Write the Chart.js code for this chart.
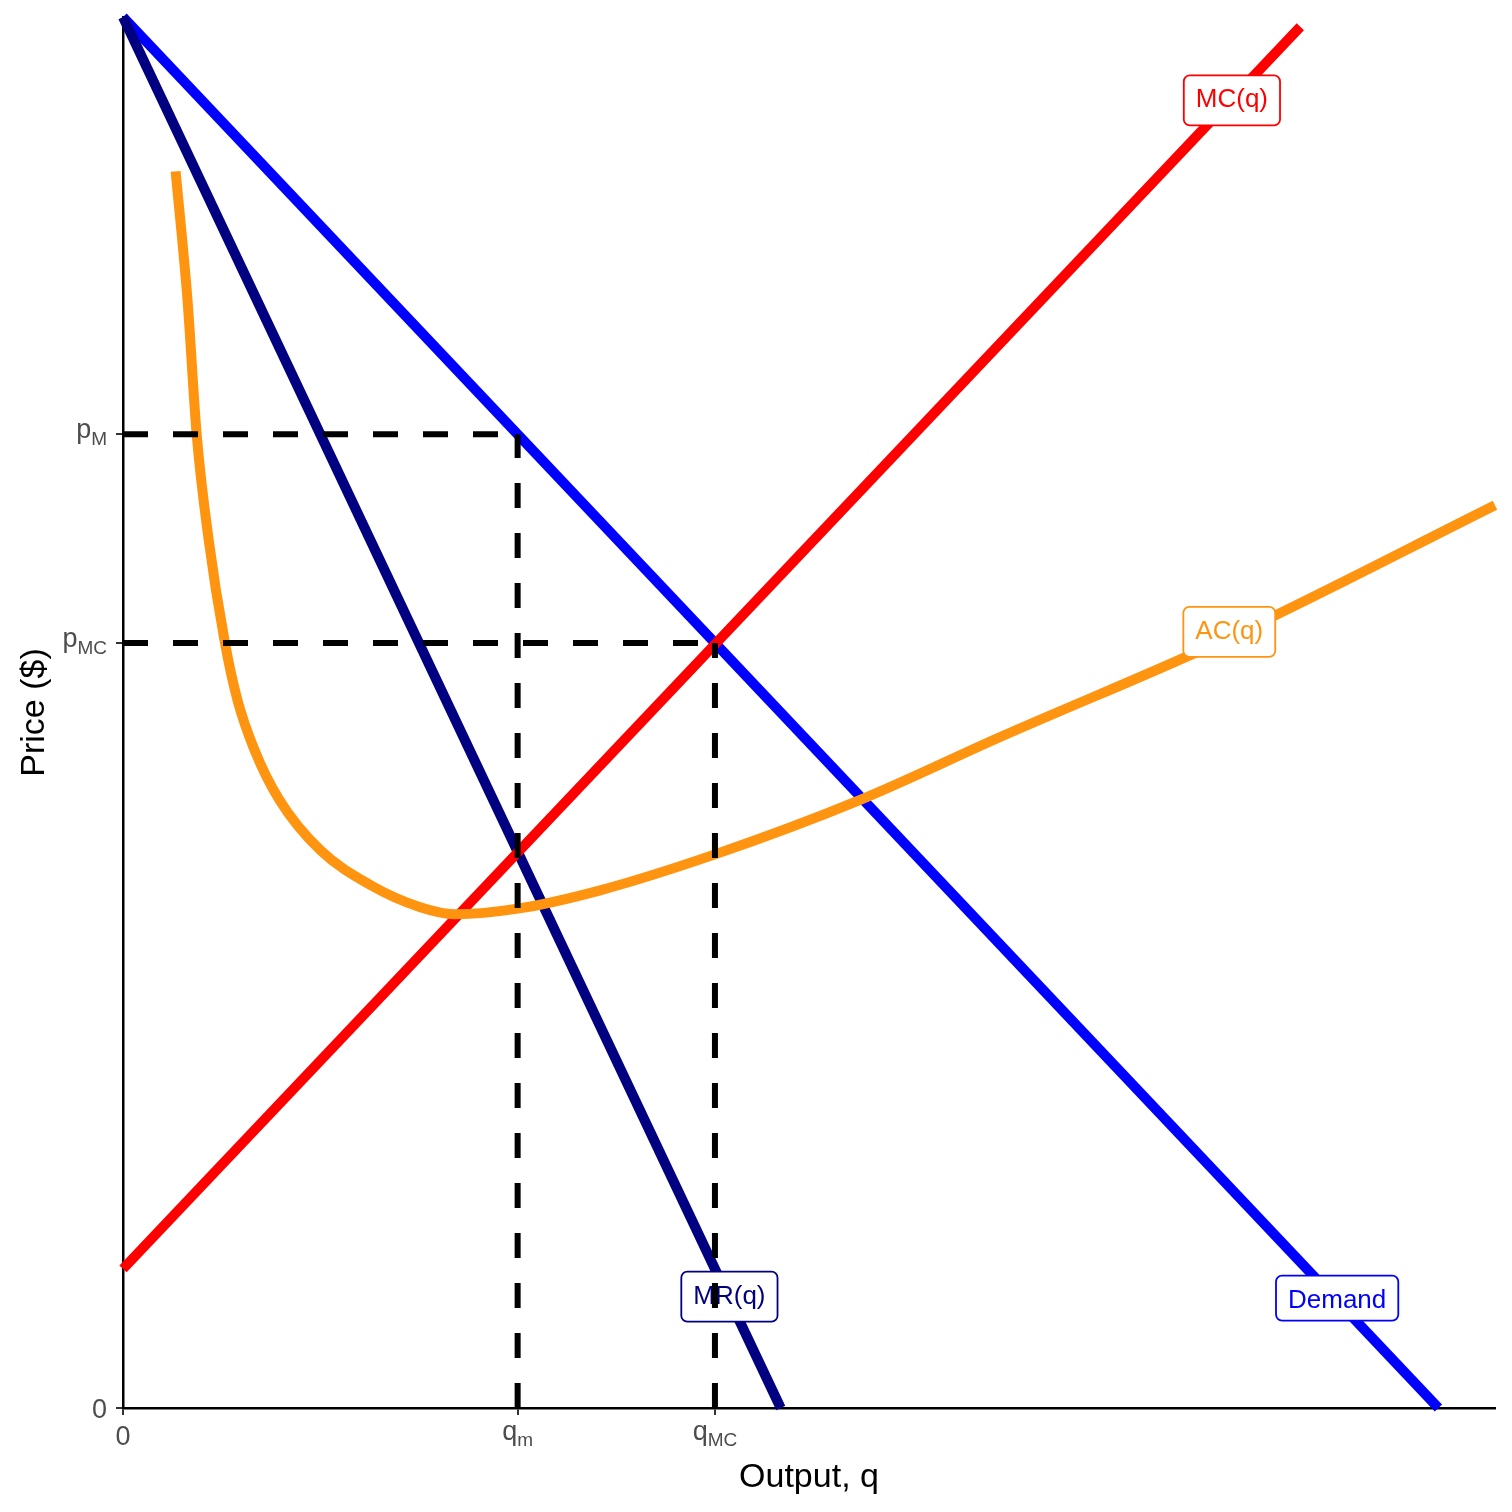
<!DOCTYPE html>
<html>
<head>
<meta charset="utf-8">
<script src="https://cdn.jsdelivr.net/npm/chart.js@4"></script>
<style>
  html, body { margin: 0; padding: 0; background: #fff; }
  #wrap { width: 1512px; height: 1512px; }
</style>
</head>
<body>
<div id="wrap"><canvas id="monopoly" width="1512" height="1512"></canvas></div>
<script>
// axis ticks (values and their labels: main letter + subscript)
const xTicks = [0, 3, 4.5];
const xTickMain = ["0", "q", "q"];
const xTickSub = ["", "m", "MC"];
const yTicks = [0, 5.5, 7];
const yTickMain = ["0", "p", "p"];
const yTickSub = ["", "MC", "M"];

// curves
const demandQ = [0, 10];
const demandP = [10, 0];
const mrQ = [0, 5];
const mrP = [10, 0];
const mcQ = [0, 8.95];
const mcP = [1, 9.93];
const acQ = [0.40, 0.49, 0.56, 0.65, 0.775, 0.87, 1.0, 1.19, 1.50, 1.88, 2.26, 2.52, 3.0, 3.62, 4.5, 5.6, 6.66, 8.41, 10.43];
const acP = [8.89, 7.97, 7.0, 6.25, 5.5, 5.09, 4.73, 4.37, 4.01, 3.76, 3.60, 3.55, 3.59, 3.72, 3.98, 4.37, 4.82, 5.54, 6.49];

// curve labels
const labelText = ["MC(q)", "AC(q)", "MR(q)", "Demand"];
const labelQ = [8.43, 8.41, 4.61, 9.23];
const labelP = [9.40, 5.58, 0.80, 0.79];
const labelColor = ["#ff0000", "#ff9410", "#000080", "#0000ff"];

const pts = (xs, ys) => xs.map((x, i) => ({ x: x, y: ys[i] }));

// dashed guides: monopoly (q_m, p_M) and competitive (q_MC, p_MC)
const qm = xTicks[1], qmc = xTicks[2];
const pmc = yTicks[1], pm = yTicks[2];

const dashStyle = {
    showLine: true, pointRadius: 0, borderColor: "#000000",
    borderWidth: 6, borderDash: [25, 25], clip: false,
};
const curveStyle = { showLine: true, pointRadius: 0, borderWidth: 10, clip: false };

const data = {
    datasets: [
        { ...dashStyle, data: pts([0, qm], [pm, pm]) },
        { ...dashStyle, data: pts([qm, qm], [0, pm]) },
        { ...dashStyle, data: pts([0, qmc], [pmc, pmc]) },
        { ...dashStyle, data: pts([qmc, qmc], [0, pmc]) },
        { ...curveStyle, label: "AC", data: pts(acQ, acP), borderColor: "#ff9410", cubicInterpolationMode: "monotone" },
        { ...curveStyle, label: "MC", data: pts(mcQ, mcP), borderColor: "#ff0000" },
        { ...curveStyle, label: "MR", data: pts(mrQ, mrP), borderColor: "#000080" },
        { ...curveStyle, label: "Demand", data: pts(demandQ, demandP), borderColor: "#0000ff" },
    ],
};

const FONT = "'Liberation Sans', Arial, Helvetica, sans-serif";

function roundRect(ctx, x, y, w, h, r) {
    ctx.beginPath();
    ctx.moveTo(x + r, y);
    ctx.arcTo(x + w, y, x + w, y + h, r);
    ctx.arcTo(x + w, y + h, x, y + h, r);
    ctx.arcTo(x, y + h, x, y, r);
    ctx.arcTo(x, y, x + w, y, r);
    ctx.closePath();
}

// labels go on top of curves but under the dashed guides
const curveLabels = {
    id: "curveLabels",
    beforeDatasetDraw(chart, args) {
        if (args.index !== 3) return;
        const ctx = chart.ctx;
        const xs = chart.scales.x, ys = chart.scales.y;
        ctx.save();
        ctx.font = "26px " + FONT;
        labelText.forEach((t, i) => {
            const cx = xs.getPixelForValue(labelQ[i]);
            const cy = ys.getPixelForValue(labelP[i]);
            const m = ctx.measureText(t);
            const asc = m.actualBoundingBoxAscent, desc = m.actualBoundingBoxDescent;
            const w = m.width + 24, h = asc + desc + 26;
            roundRect(ctx, cx - w / 2, cy - h / 2, w, h, 6);
            ctx.fillStyle = "#ffffff";
            ctx.fill();
            ctx.lineWidth = 1.8;
            ctx.strokeStyle = labelColor[i];
            ctx.stroke();
            ctx.fillStyle = labelColor[i];
            ctx.textAlign = "center";
            ctx.textBaseline = "alphabetic";
            ctx.fillText(t, cx, cy + (asc - desc) / 2);
        });
        ctx.restore();
    },
};

// tick labels with subscripts and the axis titles
const axisText = {
    id: "axisText",
    afterDraw(chart) {
        const ctx = chart.ctx;
        const xs = chart.scales.x, ys = chart.scales.y;
        const main = "27px " + FONT, sub = "19px " + FONT;
        ctx.save();
        ctx.fillStyle = "#4d4d4d";
        ctx.textBaseline = "alphabetic";
        ctx.textAlign = "left";

        xTicks.forEach((v, i) => {
            const px = xs.getPixelForValue(v);
            ctx.font = main;
            const w1 = ctx.measureText(xTickMain[i]).width;
            ctx.font = sub;
            const w2 = xTickSub[i] ? ctx.measureText(xTickSub[i]).width : 0;
            const left = px - (w1 + w2) / 2;
            const base = xTickSub[i] ? 1440 : 1445;
            ctx.font = main;
            ctx.fillText(xTickMain[i], left, base);
            if (xTickSub[i]) {
                ctx.font = sub;
                ctx.fillText(xTickSub[i], left + w1, base + 6);
            }
        });

        yTicks.forEach((v, i) => {
            const py = ys.getPixelForValue(v);
            const right = 107;
            ctx.font = sub;
            const w2 = yTickSub[i] ? ctx.measureText(yTickSub[i]).width : 0;
            ctx.font = main;
            const w1 = ctx.measureText(yTickMain[i]).width;
            if (yTickSub[i]) {
                ctx.fillText(yTickMain[i], right - w2 - w1, py + 4);
                ctx.font = sub;
                ctx.fillText(yTickSub[i], right - w2, py + 11);
            } else {
                ctx.fillText(yTickMain[i], right - w1, py + 9.5);
            }
        });

        ctx.fillStyle = "#000000";
        ctx.font = "34px " + FONT;
        ctx.textAlign = "center";
        const area = chart.chartArea;
        ctx.fillText("Output, q", (area.left + area.right) / 2, 1487);
        ctx.translate(44, (area.top + area.bottom) / 2);
        ctx.rotate(-Math.PI / 2);
        ctx.fillText("Price ($)", 0, 0);
        ctx.restore();
    },
};

const tickGrid = {
    drawOnChartArea: false, drawTicks: true, tickLength: 7,
    color: "#333333", lineWidth: 2,
};

const config = {
    type: "scatter",
    data,
    options: {
        responsive: false,
        animation: false,
        layout: { padding: { left: 116, right: 17, top: 17, bottom: 97 } },
        plugins: { legend: { display: false }, tooltip: { enabled: false } },
        scales: {
            x: {
                type: "linear", min: 0, max: 10.43,
                afterBuildTicks: (s) => { s.ticks = xTicks.map((v) => ({ value: v })); },
                ticks: { display: false },
                grid: tickGrid,
                border: { display: true, color: "#000000", width: 2.5 },
            },
            y: {
                type: "linear", min: 0, max: 10,
                afterBuildTicks: (s) => { s.ticks = yTicks.map((v) => ({ value: v })); },
                ticks: { display: false },
                grid: tickGrid,
                border: { display: true, color: "#000000", width: 2.5 },
            },
        },
    },
    plugins: [curveLabels, axisText],
};

const chartMonopoly = document.getElementById("monopoly");
const myChartMonopoly = new Chart(chartMonopoly, config);
</script>
</body>
</html>
